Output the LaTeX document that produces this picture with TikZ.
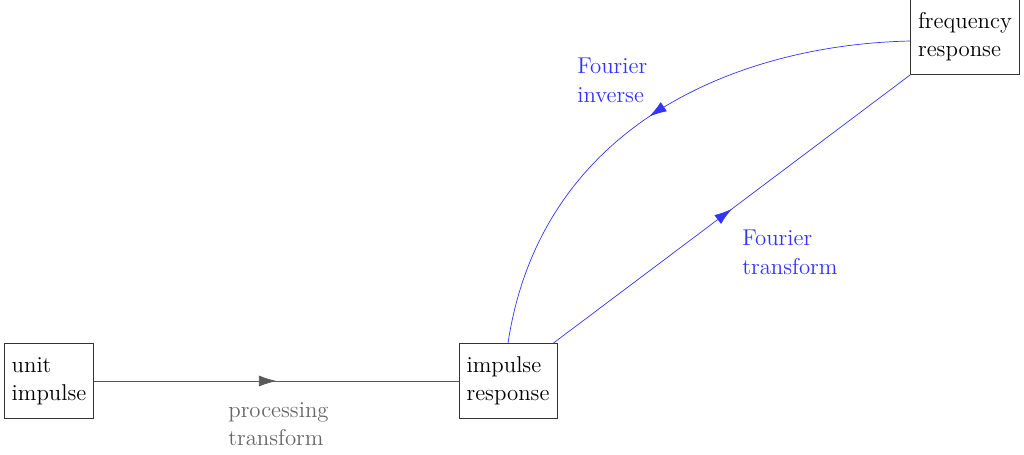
\documentclass[tikz,border=0pt]{standalone}
\usetikzlibrary{arrows.meta,decorations.markings}
\begin{document}
\begin{tikzpicture}
[
 x=0.02cm, y=-0.02cm,
 every node/.style={font=\fontsize{13}{16}\selectfont},
 BOX/.style={rectangle, draw=black!80, thin, align=left, inner sep=1.5mm, minimum height=15mm},
 LABEL/.style={align=left, anchor=north west, inner sep=0mm},
 MIDARROW/.style={postaction={decorate}, decoration={markings,
   mark=at position 0.5 with {\arrow{Latex[length=3.5mm,width=2.2mm]}}}},
 GRAYLINE/.style={draw=black!65, thin, MIDARROW},
 BLUELINE/.style={draw=blue!80, thin, MIDARROW},
 ]
%
\useasboundingbox (0,0) rectangle (1024,454);
%
\node [BOX]  (unitimp)  at (49,381)  {unit\\impulse};
\node [BOX]  (impresp)  at (508,381) {impulse\\response};
\node [BOX]  (freqresp) at (965,37)  {frequency\\response};
%
\draw [GRAYLINE]  (unitimp.east) -- (impresp.west);
\draw [BLUELINE]  (impresp.north east) ++(-4,0) coordinate (trstart) -- (freqresp.south west) ++(8,0) coordinate (trend);
\draw [BLUELINE]  (freqresp.west) ++(0,4) coordinate (invstart)
      .. controls (730,45) and (540,130) .. (impresp.north);
%
\node [LABEL, text=black!60] (proclab) at (228,402) {processing\\transform};
\node [LABEL, text=blue!80]  (trlab)   at (742,230) {Fourier\\transform};
\node [LABEL, text=blue!80]  (invlab)  at (577,58)  {Fourier\\inverse};
%
\end{tikzpicture}
\end{document}
